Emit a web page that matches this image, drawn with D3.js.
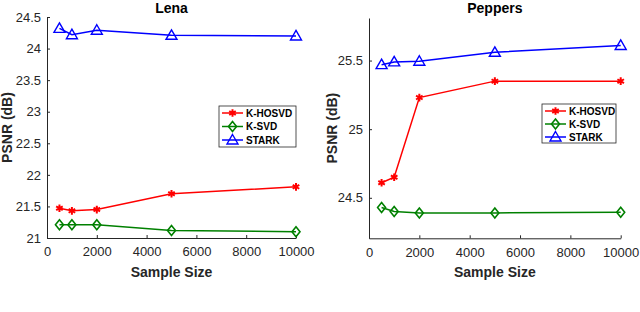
<!DOCTYPE html>
<html><head><meta charset="utf-8">
<script src="https://cdn.jsdelivr.net/npm/d3@7"></script>
<style>body{margin:0;background:#fff}svg{display:block}text{font-family:"Liberation Sans",Arial,sans-serif}</style>
</head><body><svg id="c" width="640" height="312"></svg>
<script>
const sampleSizes = [500, 1000, 2000, 5000, 10000];
const xTicks = [0, 2000, 4000, 6000, 8000, 10000];
const seriesNames = ["K-HOSVD", "K-SVD", "STARK"];
const lenaKHOSVD = [21.47, 21.43, 21.45, 21.70, 21.81];
const lenaKSVD = [21.21, 21.21, 21.21, 21.12, 21.10];
const lenaSTARK = [24.32, 24.22, 24.29, 24.21, 24.20];
const lenaYTicks = [21, 21.5, 22, 22.5, 23, 23.5, 24, 24.5];
const peppersKHOSVD = [24.61, 24.65, 25.23, 25.35, 25.35];
const peppersKSVD = [24.43, 24.40, 24.39, 24.39, 24.395];
const peppersSTARK = [25.47, 25.49, 25.495, 25.56, 25.61];
const peppersYTicks = [24.5, 25, 25.5];

const colors = {"K-HOSVD":"#ff0000","K-SVD":"#008000","STARK":"#0000ff"};
const svg = d3.select("#c");
const axisCol = "#262626";

function marker(g, name, x, y){
  if(name==="K-HOSVD"){
    g.append("path").attr("transform",`translate(${x},${y})`)
      .attr("d", d3.symbol(d3.symbolAsterisk, 40)()).attr("fill","none")
      .attr("stroke",colors[name]).attr("stroke-width",2);
  } else if(name==="K-SVD"){
    g.append("path").attr("transform",`translate(${x},${y})`)
      .attr("d", `M0,-5L4,0L0,5L-4,0Z`).attr("fill","none")
      .attr("stroke",colors[name]).attr("stroke-width",1.6);
  } else {
    g.append("path").attr("transform",`translate(${x},${y})`)
      .attr("d", `M0,-5.5L5.5,4L-5.5,4Z`).attr("fill","none")
      .attr("stroke",colors[name]).attr("stroke-width",1.4);
  }
}

function panel(cfg){
  const x = d3.scaleLinear().domain([0,10000]).range([cfg.x0, cfg.x1]);
  const y = d3.scaleLinear().domain(cfg.yDomain).range([cfg.y1, cfg.y0]);
  const g = svg.append("g");
  const xa = g.append("g").attr("transform",`translate(0,${cfg.y1})`)
    .call(d3.axisBottom(x).tickValues(xTicks).tickSize(-3).tickSizeOuter(0).tickPadding(9).tickFormat(d3.format("d")));
  const ya = g.append("g").attr("transform",`translate(${cfg.x0},0)`)
    .call(d3.axisLeft(y).tickValues(cfg.yTicks).tickSize(-3).tickSizeOuter(0).tickPadding(6).tickFormat(d=>d));
  [xa,ya].forEach(a=>{
    a.select(".domain").attr("stroke",axisCol).attr("stroke-width",1);
    a.selectAll(".tick line").attr("stroke",axisCol);
    a.selectAll(".tick text").attr("fill",axisCol).style("font-size","13px").style("font-family",'"Liberation Sans",Arial,sans-serif');
  });
  g.append("text").attr("x",(cfg.x0+cfg.x1)/2).attr("y",13).attr("text-anchor","middle")
    .style("font-size","14px").style("font-weight","bold").text(cfg.title);
  g.append("text").attr("x",(cfg.x0+cfg.x1)/2).attr("y",277).attr("text-anchor","middle")
    .attr("fill",axisCol).style("font-size","14px").style("font-weight","bold").text("Sample Size");
  g.append("text").attr("transform",`translate(${cfg.ylabX},${(cfg.y0+cfg.y1)/2}) rotate(-90)`)
    .attr("text-anchor","middle").attr("fill",axisCol).style("font-size","14px").style("font-weight","bold").text("PSNR (dB)");
  const line = d3.line().x((d,i)=>x(sampleSizes[i])).y(d=>y(d));
  seriesNames.forEach((n,k)=>{
    const vals = cfg.data[k];
    g.append("path").attr("d", line(vals)).attr("fill","none").attr("stroke",colors[n]).attr("stroke-width",1.5);
    vals.forEach((v,i)=>marker(g,n,x(sampleSizes[i]),y(v)));
  });
  const L = cfg.legend;
  g.append("rect").attr("x",L.x).attr("y",L.y).attr("width",L.w).attr("height",L.h)
    .attr("fill","#fff").attr("stroke","#262626").attr("stroke-width",0.8);
  seriesNames.forEach((n,k)=>{
    const yy = L.y + 7 + k*L.dy;
    g.append("line").attr("x1",L.x+3).attr("x2",L.x+24).attr("y1",yy).attr("y2",yy)
      .attr("stroke",colors[n]).attr("stroke-width",1.5);
    marker(g,n,L.x+13.5,yy);
    g.append("text").attr("x",L.x+27).attr("y",yy+3.5).style("font-size","10px").style("font-weight","bold").text(n);
  });
}

panel({title:"Lena", x0:47, x1:296, y0:17, y1:238, yDomain:[21,24.5], yTicks:lenaYTicks, ylabX:12,
  data:[lenaKHOSVD,lenaKSVD,lenaSTARK], legend:{x:219,y:106,w:77,h:41,dy:13.5}});
panel({title:"Peppers", x0:369, x1:620.7, y0:18, y1:238.3, yDomain:[24.205,25.81], yTicks:peppersYTicks, ylabX:337,
  data:[peppersKHOSVD,peppersKSVD,peppersSTARK], legend:{x:542,y:104,w:74,h:39,dy:13}});
</script></body></html>
